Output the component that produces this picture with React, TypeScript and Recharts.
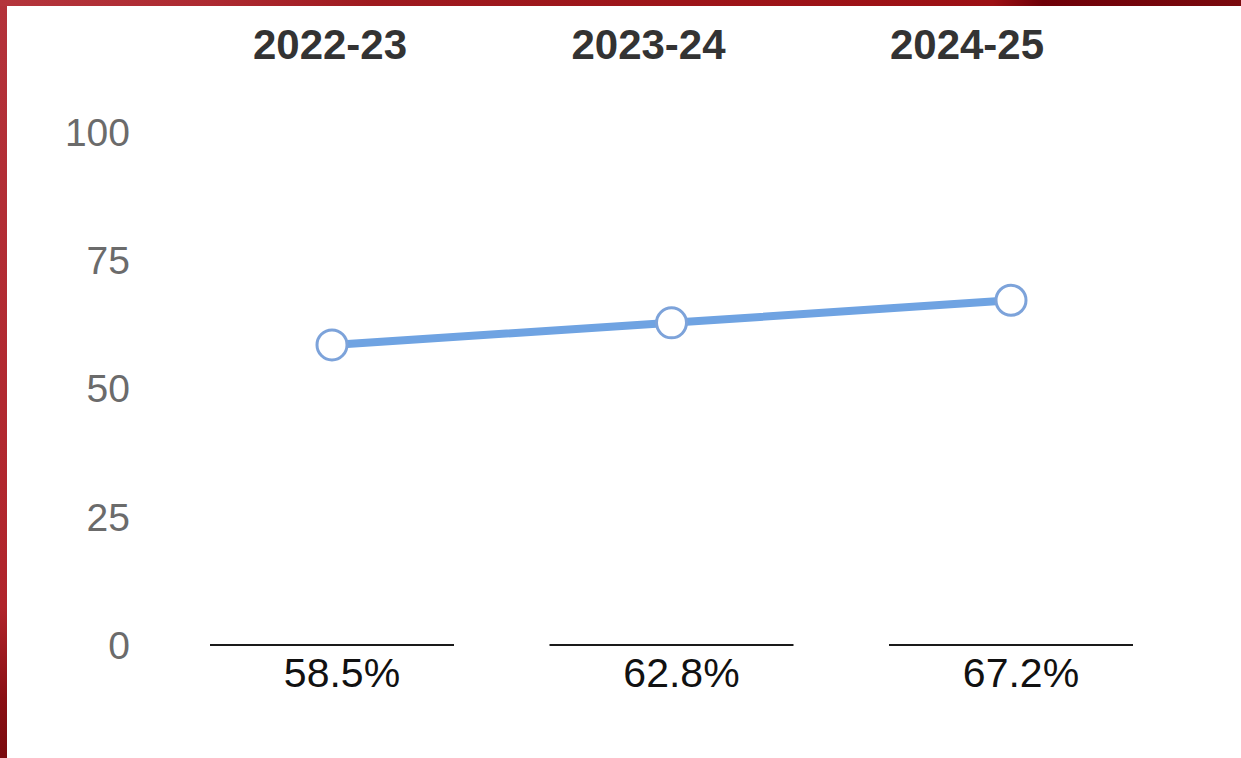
import React from 'react';
import { LineChart, Line, XAxis, YAxis } from 'recharts';

const seasons = ['2022-23', '2023-24', '2024-25'];
const rates = [58.5, 62.8, 67.2];
const yTicks = [0, 25, 50, 75, 100];

const chartData = seasons.map((season, i) => ({ season, rate: rates[i] }));

// bottom tick: a short rule under each category with the value below it
const RateTick = (props: any) => {
  const { x, y, index } = props;
  return (
    <g>
      <line x1={x - 122} x2={x + 122} y1={y} y2={y} stroke="#1a1a1a" strokeWidth={2} />
      <text
        x={x + 10}
        y={y + 42}
        textAnchor="middle"
        fontSize={41}
        fill="#111"
        fontFamily="'Liberation Sans', Arial, sans-serif"
      >
        {rates[index].toFixed(1)}%
      </text>
    </g>
  );
};

const App: React.FC = () => {
  return (
    <div
      style={{
        position: 'absolute',
        left: 0,
        top: 0,
        width: 1241,
        height: 758,
        background: 'linear-gradient(90deg, #b4353c 0%, #ad2a31 17%, #9e1a1f 30%, #9c1014 80%, #6e0008 84%, #7a0a0e 100%)',
        fontFamily: "'Liberation Sans', Arial, sans-serif",
      }}
    >
      <div
        style={{
          position: 'absolute',
          left: 0,
          top: 6,
          width: 7,
          bottom: 0,
          background: 'linear-gradient(180deg, #b3323a 0%, #b0242b 80%, #8a0f14 92%, #7a0a0e 100%)',
        }}
      />
      <div style={{ position: 'absolute', left: 7, top: 6, right: 0, bottom: 0, background: '#fff' }} />
      <div style={{ position: 'absolute', left: 0, top: 0 }}>
        <LineChart width={1241} height={758} data={chartData} margin={{ top: 0, right: 60, left: 0, bottom: 0 }}>
          <XAxis
            xAxisId="top"
            dataKey="season"
            orientation="top"
            height={132}
            padding={{ left: 168, right: 214 }}
            axisLine={false}
            tickLine={false}
            tickSize={0}
            tickMargin={73}
            tick={{ fontSize: 42, fontWeight: 'bold', fill: '#333' }}
          />
          <XAxis
            dataKey="season"
            height={113}
            padding={{ left: 170, right: 170 }}
            axisLine={false}
            tickLine={false}
            tickSize={0}
            tickMargin={0}
            tick={<RateTick />}
          />
          <YAxis
            domain={[0, 100]}
            ticks={yTicks}
            width={162}
            axisLine={false}
            tickLine={false}
            tickSize={0}
            tickMargin={32}
            tick={{ fontSize: 39, fill: '#6b6b6b' }}
          />
          <Line
            dataKey="rate"
            stroke="#6fa3e2"
            strokeWidth={8}
            dot={{ r: 15, fill: '#fff', stroke: '#7da3da', strokeWidth: 3 }}
            activeDot={false}
            isAnimationActive={false}
          />
        </LineChart>
      </div>
    </div>
  );
};

export default App;
